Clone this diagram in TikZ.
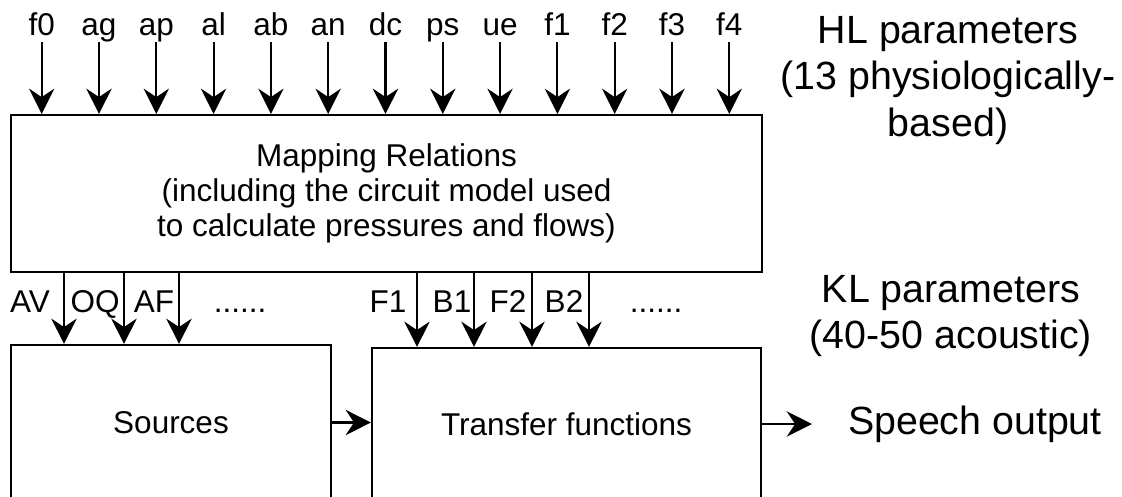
\documentclass[tikz,border=0pt]{standalone}
\usepackage{fontspec}
\setmainfont{Liberation Sans}
\usetikzlibrary{arrows.meta,positioning}

\begin{document}
\begin{tikzpicture}[
  block/.style={rectangle, draw, line width=1.5pt, align=center,
                font=\fontsize{22.4}{25}\selectfont},
  param/.style={inner sep=0pt, anchor=base, text depth=0.175cm,
                font=\fontsize{22.4}{25}\selectfont},
  note/.style={align=center, inner sep=0pt, font=\fontsize{28}{33}\selectfont},
  edge/.style={draw, line width=1.5pt,
               -{Stealth[length=18pt, width=18pt, inset=6pt]}},
]
  \useasboundingbox (0,0) rectangle (28.05,-12.4);

  % ========= BLOCKS =========
  \node[block, minimum width=18.775cm, minimum height=3.925cm] (map)
       at (9.6625,-4.8375)
       {Mapping Relations\\ (including the circuit model used\\
        to calculate pressures and flows)};
  \node[block, minimum width=8cm, minimum height=3.875cm] (src)
       at (4.275,-10.5625) {Sources};
  \node[block, minimum width=9.725cm, minimum height=3.8cm] (xfer)
       at (14.1625,-10.6) {Transfer functions};

  % ========= SIDE NOTES =========
  \node[note] (hlnote) at (23.7,-2.0125)
       {HL parameters\\ (13 physiologically-\\ based)};
  \node[note] (klnote) at (23.775,-7.9) {KL parameters\\ (40-50 acoustic)};
  \node[note, anchor=west, outer xsep=0.9cm] (out) at (20.3,-10.6)
       {Speech output};

  % ========= HL PARAMETERS (top row) =========
  \foreach \lab [count=\i from 0] in {f0,ag,ap,al,ab,an,dc,ps,ue,f1,f2,f3,f4} {
    \node[param] (hl\i) at ({1.0425+1.4325*\i},-0.875) {\lab};
    \draw[edge] (hl\i) -- (hl\i |- map.north);
  }

  % ========= KL PARAMETERS (sources / transfer) =========
  \foreach \x/\lx/\lab [count=\i] in {1.6/0.75/AV, 3.1/2.375/OQ, 4.475/3.85/AF} {
    \node[param] (kls\i) at (\lx,-7.8) {\lab};
    \draw[edge] (map.south -| \x,0) -- (src.north -| \x,0);
  }
  \node[param] (klsdots) at (6.0,-7.8) {......};

  \foreach \x/\lx/\lab [count=\i] in {10.425/9.7/F1, 11.85/11.3/B1,
                                      13.3/12.7/F2, 14.725/14.1/B2} {
    \node[param] (klt\i) at (\lx,-7.8) {\lab};
    \draw[edge] (map.south -| \x,0) -- (xfer.north -| \x,0);
  }
  \node[param] (kltdots) at (16.4,-7.8) {......};

  % ========= SIGNAL PATH =========
  \draw[edge] (src.east) -- (src.east -| xfer.west);
  \draw[edge] (xfer.east) -- (out.west);

\end{tikzpicture}
\end{document}
